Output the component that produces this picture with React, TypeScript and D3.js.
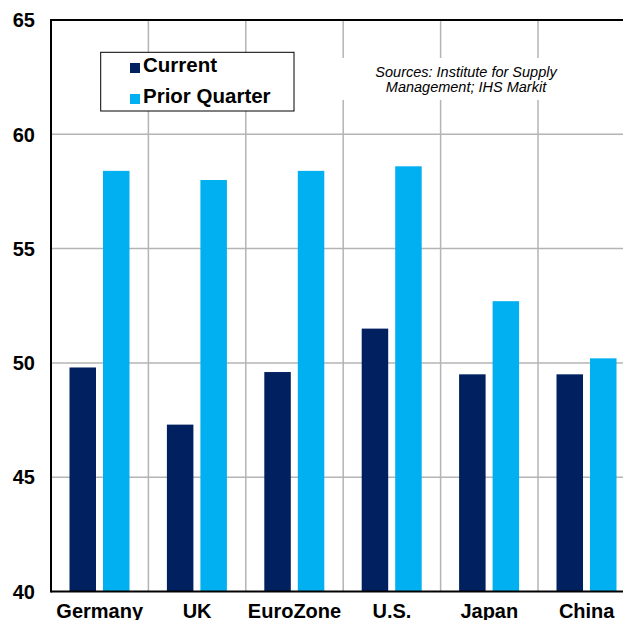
import React from "react";
import * as d3 from "d3";

const categories = ["Germany", "UK", "EuroZone", "U.S.", "Japan", "China"];
const seriesNames = ["Current", "Prior Quarter"];
const currentValues = [49.8, 47.3, 49.6, 51.5, 49.5, 49.5];
const priorValues = [58.4, 58.0, 58.4, 58.6, 52.7, 50.2];
const yTicks = [40, 45, 50, 55, 60, 65];
const colors = ["#002060", "#00B0F0"];
const sourceLines = ["Sources: Institute for Supply", "Management; IHS Markit"];

const W = 623;
const H = 620;
const left = 51;
const top = 20;
const bottom = 591.5;
const right = 51 + 6 * 97.4;

export default function App() {
  const x = d3.scaleBand<string>().domain(categories).range([left, right]).paddingInner(0).paddingOuter(0);
  const xs = d3.scaleBand<string>().domain(seriesNames).range([18.5, 78.5]).paddingInner(7 / 33.5);
  const y = d3.scaleLinear().domain([40, 65]).range([bottom, top]);
  const series = [currentValues, priorValues];
  const font = "'Liberation Sans', Arial, Helvetica, sans-serif";

  return (
    <svg width={W} height={H} style={{ position: "absolute", left: 0, top: 0, background: "#fff" }} fontFamily={font}>
      <rect x={0} y={0} width={W} height={H} fill="#fff" />
      {/* horizontal gridlines */}
      {yTicks.filter((t) => t > 40 && t < 65).map((t) => (
        <line key={"h" + t} x1={left} x2={right} y1={y(t)} y2={y(t)} stroke="#b4b4b4" strokeWidth={1.5} />
      ))}
      {/* vertical gridlines */}
      {categories.slice(1).map((c) => (
        <line key={"v" + c} x1={x(c)!} x2={x(c)!} y1={top} y2={bottom} stroke="#b4b4b4" strokeWidth={1.5} />
      ))}
      {/* bars */}
      {series.map((vals, si) =>
        vals.map((v, i) => (
          <rect
            key={si + "-" + i}
            x={x(categories[i])! + xs(seriesNames[si])!}
            y={y(v)}
            width={xs.bandwidth()}
            height={y(40) - y(v)}
            fill={colors[si]}
          />
        ))
      )}
      {/* axes frame */}
      <line x1={left} x2={right} y1={top} y2={top} stroke="#000" strokeWidth={2} />
      <line x1={left} x2={left} y1={top - 1} y2={bottom + 1} stroke="#000" strokeWidth={2} />
      <line x1={left} x2={right} y1={bottom} y2={bottom} stroke="#000" strokeWidth={2} />
      {/* y tick labels */}
      {yTicks.map((t) => (
        <text key={"t" + t} x={35} y={y(t)} dy="0.36em" textAnchor="end" fontSize={20} fontWeight="bold" fill="#000">
          {t}
        </text>
      ))}
      {/* x labels */}
      {categories.map((c) => (
        <text key={"c" + c} x={x(c)! + x.bandwidth() / 2} y={618} textAnchor="middle" fontSize={20} fontWeight="bold" fill="#000">
          {c}
        </text>
      ))}
      {/* legend */}
      <rect x={100.7} y={52.3} width={193.3} height={58.7} fill="#fff" stroke="#000" strokeWidth={1} />
      {seriesNames.map((s, i) => (
        <g key={"l" + s}>
          <rect x={130} y={[63, 94][i]} width={10} height={10} fill={colors[i]} />
          <text x={143} y={[72, 103][i]} fontSize={20.5} fontWeight="bold" fill="#000">
            {s}
          </text>
        </g>
      ))}
      {/* sources */}
      <rect x={336} y={58} width={262} height={42} fill="#fff" />
      {sourceLines.map((l, i) => (
        <text key={"s" + i} x={466} y={77 + i * 14.5} textAnchor="middle" fontSize={14.5} fontStyle="italic" fill="#000">
          {l}
        </text>
      ))}
    </svg>
  );
}
